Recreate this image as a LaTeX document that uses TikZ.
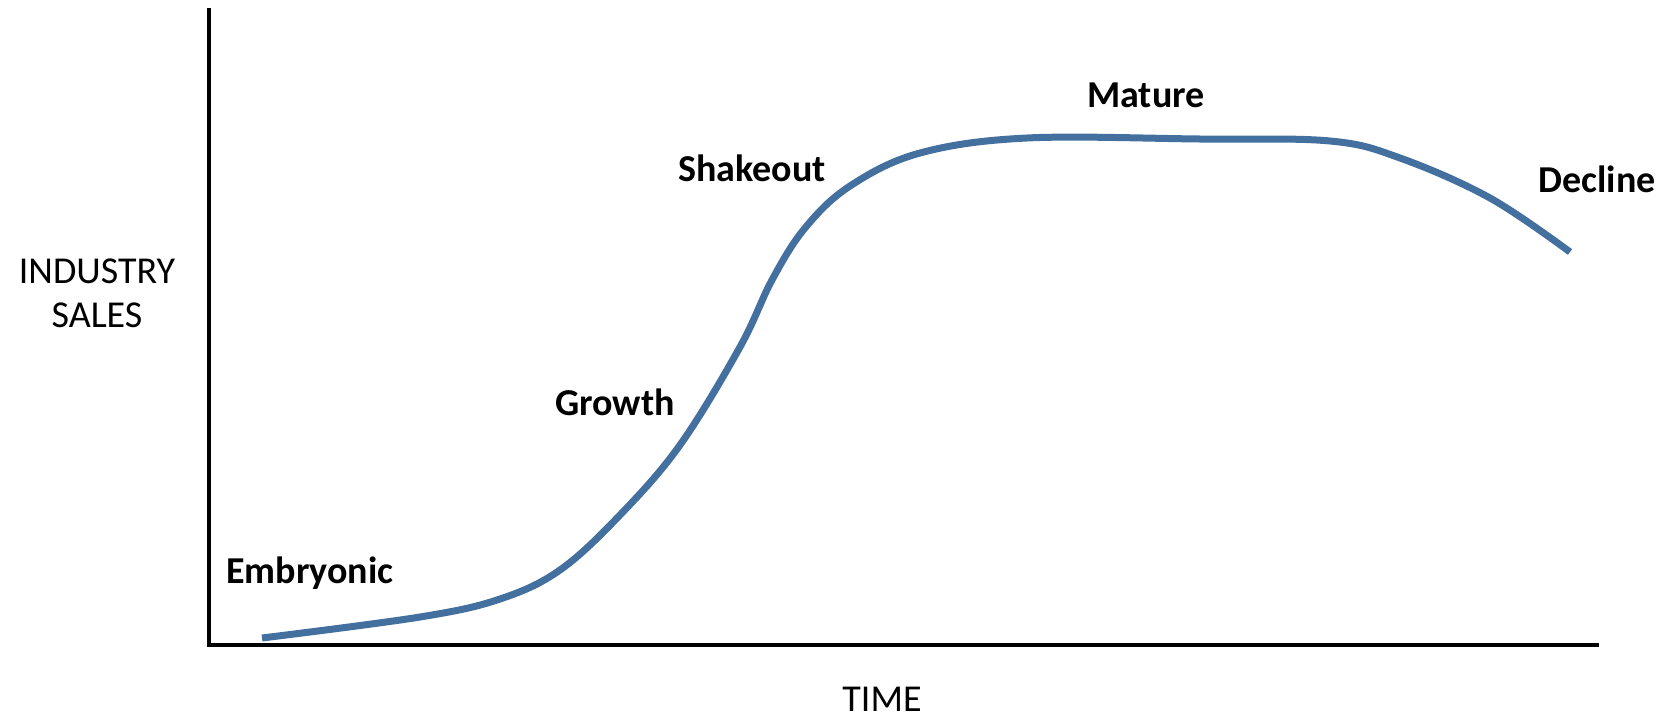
\documentclass[tikz,border=0pt]{standalone}
\usepackage{fontspec}
\usepackage{xcolor}
\setmainfont{Carlito}
\definecolor{salesblue}{RGB}{67,112,158}

\begin{document}
\begin{tikzpicture}[x=0.5pt,y=-0.5pt,
		axis/.style={line width=2.2pt,black},
		salescurve/.style={line width=3.5pt,salesblue},
		axislabel/.style={anchor=base,inner sep=0pt,font=\fontsize{19}{22}\selectfont},
		stagelabel/.style={anchor=base,inner sep=0pt,font=\fontsize{19}{22}\selectfont\bfseries}]
	\useasboundingbox (0,0) rectangle (1665,718);
	\coordinate (ytop) at (209,8);
	\coordinate (origin) at (209,645);
	\coordinate (xend) at (1599,645);
	\draw[axis] (ytop) -- (origin) -- (xend);
	\node[axislabel] (industry) at (97,283) {INDUSTRY};
	\node[axislabel] (sales) at (97,327) {SALES};
	\node[axislabel] (time) at (882,711) {TIME};
	\node[stagelabel] (embryonic) at (310,583) {Embryonic};
	\node[stagelabel] (growth) at (615,415) {Growth};
	\node[stagelabel] (shakeout) at (752,181) {Shakeout};
	\node[stagelabel] (mature) at (1146,107) {Mature};
	\node[stagelabel] (decline) at (1597,192) {Decline};
	\draw[salescurve] plot[smooth,tension=0.6] coordinates {
		(262,638) (420,617) (500,599) (560,570) (620,515) (680,445)
		(740,347) (772,280) (805,228) (850,186) (920,153) (1027,138)
		(1200,139) (1330,141) (1400,158) (1490,198) (1570,252)};
\end{tikzpicture}
\end{document}
